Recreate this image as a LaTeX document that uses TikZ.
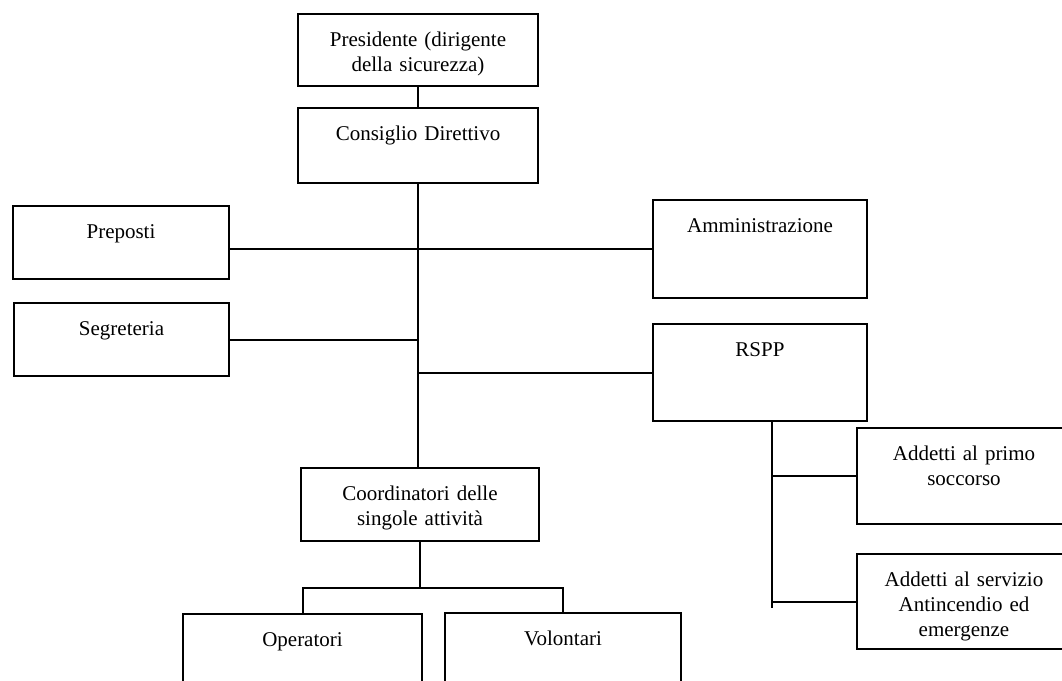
\documentclass[tikz,border=0pt]{standalone}
\usepackage{fontspec}
\setmainfont{Liberation Serif}
\usetikzlibrary{positioning, calc}

\begin{document}
\begin{tikzpicture}[x=0.5pt, y=-0.5pt, every path/.style={line width=1pt}]
                    \tikzstyle{box} = [draw, rectangle, anchor=north west, inner sep=0pt, align=center, text height=16pt, font=\fontsize{10.5}{12.5}\selectfont]
                    \useasboundingbox (0,0) rectangle (1062,681);
                    \node[box, text width=120pt, text depth=20pt] (pres) at (297,13) {Presidente (dirigente\\della sicurezza)};
                    \node[box, text width=120pt, text depth=21.5pt] (cons) at (297,107) {Consiglio Direttivo};
                    \node[box, text width=108pt, text depth=20.5pt] (prep) at (12,205) {Preposti};
                    \node[box, text width=107pt, text depth=33pt] (amm) at (652,199) {Amministrazione};
                    \node[box, text width=107.5pt, text depth=20.5pt] (segr) at (13,302) {Segreteria};
                    \node[box, text width=107pt, text depth=32.5pt] (rspp) at (652,323) {RSPP};
                    \node[box, text width=107pt, text depth=32pt] (primo) at (856,427) {Addetti al primo\\soccorso};
                    \node[box, text width=107pt, text depth=31.5pt] (antinc) at (856,553) {Addetti al servizio\\Antincendio ed\\emergenze};
                    \node[box, text width=119pt, text depth=20.5pt] (coord) at (300,467) {Coordinatori delle\\singole attività};
                    \node[box, text width=119.5pt, text depth=30pt] (oper) at (182,613) {Operatori};
                    \node[box, text width=118pt, text depth=30pt] (vol) at (444,612) {Volontari};
                    \coordinate (rsppend) at (772,608);
                    \coordinate (fork) at (420,588);

                    \draw (pres.south) -- (cons.north);
                    \draw (cons.south) -- (cons.south |- coord.north);
                    \draw (amm.west -| prep.east) -- (amm.west);
                    \draw (segr.east) -- (segr.east -| cons.south);
                    \draw (rspp.west -| cons.south) -- (rspp.west);
                    \draw (rspp.south -| rsppend) -- (rsppend);
                    \draw (primo.west -| rsppend) -- (primo.west);
                    \draw (antinc.west -| rsppend) -- (antinc.west);
                    \draw (coord.south) -- (coord.south |- fork);
                    \draw (oper.north) |- (fork) -| (vol.north);
                \end{tikzpicture}
\end{document}
